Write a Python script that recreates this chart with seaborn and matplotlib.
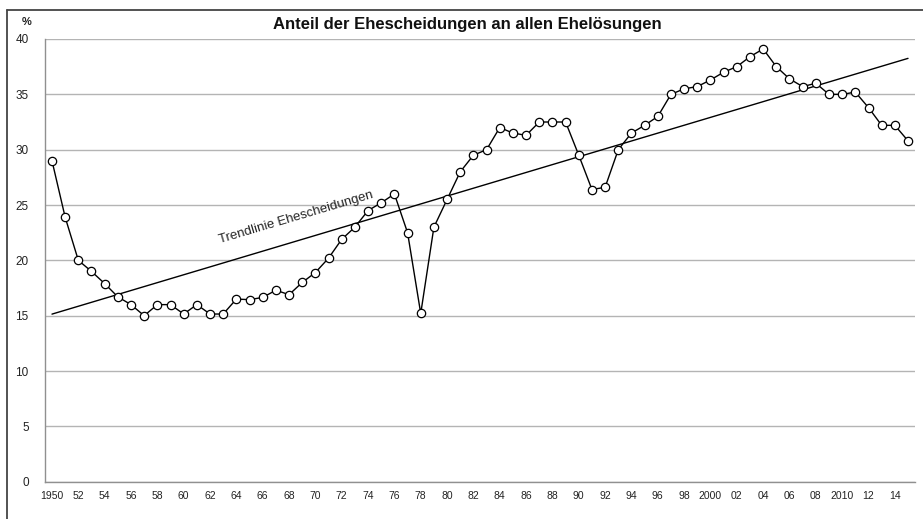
import numpy as np
import pandas as pd
import matplotlib
matplotlib.use("Agg")
import matplotlib.pyplot as plt
from matplotlib.lines import Line2D
import seaborn as sns

# Anteil der Ehescheidungen an allen Ehelösungen, in %
years = list(range(1950, 2016))
share = [29.0, 23.9, 20.0, 19.0, 17.9, 16.7, 16.0, 15.0, 16.0, 16.0,
         15.15, 16.0, 15.15, 15.15, 16.5, 16.45, 16.65, 17.3, 16.9, 18.0,
         18.9, 20.2, 21.9, 23.0, 24.5, 25.2, 26.0, 22.5, 15.2, 23.0,
         25.5, 28.0, 29.5, 30.0, 32.0, 31.5, 31.3, 32.5, 32.5, 32.5,
         29.5, 26.4, 26.6, 30.0, 31.5, 32.2, 33.0, 35.0, 35.5, 35.7,
         36.3, 37.0, 37.5, 38.4, 39.1, 37.5, 36.4, 35.7, 36.0, 35.0,
         35.0, 35.2, 33.8, 32.2, 32.2, 30.8]

tick_years = list(range(1950, 2016, 2))
tick_labels = ["1950", "52", "54", "56", "58", "60", "62", "64", "66", "68",
               "70", "72", "74", "76", "78", "80", "82", "84", "86", "88",
               "90", "92", "94", "96", "98", "2000", "02", "04", "06", "08",
               "2010", "12", "14"]

df = pd.DataFrame({"Jahr": years, "Anteil": share})

sns.set_style("white")
plt.rcParams["font.family"] = ["Liberation Sans", "DejaVu Sans"]

W, H = 923, 519
fig = plt.figure(figsize=(W / 100, H / 100), dpi=100)
ax = fig.add_axes([45.4 / W, (H - 481.7) / H, (914.6 - 45.4) / W, (481.7 - 39) / H])

# trend line (linear regression, like the Excel trendline)
sns.regplot(data=df, x="Jahr", y="Anteil", ax=ax, scatter=False, ci=None,
            line_kws={"color": "black", "lw": 1.0})

sns.lineplot(data=df, x="Jahr", y="Anteil", ax=ax, color="black", lw=1.0,
             marker="o", markersize=6, markerfacecolor="white",
             markeredgecolor="black", markeredgewidth=0.9)

ax.set_xlim(1949.5, 2015.5)
ax.set_ylim(0, 40)
ax.set_yticks(range(0, 41, 5))
ax.yaxis.grid(True, color="#b4b4b4", lw=1.0)
ax.set_axisbelow(True)
ax.set_xticks(tick_years)
ax.set_xticklabels(tick_labels)
ax.set_xticks(np.arange(1949.5, 2016, 1), minor=True)
ax.tick_params(axis="x", which="major", length=0, pad=7, labelsize=7.5, colors="#222222")
ax.tick_params(axis="x", which="minor", length=4, width=0.8, color="#909090", direction="out")
ax.tick_params(axis="y", length=0, pad=12, labelsize=8.5, colors="#222222")
ax.set_xlabel("")
ax.set_ylabel("")
for side in ["top", "right"]:
    ax.spines[side].set_visible(False)
for side in ["left", "bottom"]:
    ax.spines[side].set_color("#909090")
    ax.spines[side].set_linewidth(1.0)

ax.text(1968.5, 23.9, "Trendlinie Ehescheidungen", rotation=16.5, fontsize=9.5,
        ha="center", va="center", color="#222222")

fig.text(467 / W, 1 - 25 / H, "Anteil der Ehescheidungen an allen Ehelösungen",
         ha="center", va="center", fontsize=12, fontweight="bold", color="#111111")
fig.text(27 / W, 1 - 22 / H, "%", ha="center", va="center", fontsize=8,
         fontweight="bold", color="#222222")

# outer frame (top and left)
fig.add_artist(Line2D([7 / W, 7 / W], [0, 1 - 10 / H], color="#444444", lw=1.3))
fig.add_artist(Line2D([7 / W, 1], [1 - 10 / H, 1 - 10 / H], color="#444444", lw=1.3))

fig.savefig("out.png", dpi=100)
